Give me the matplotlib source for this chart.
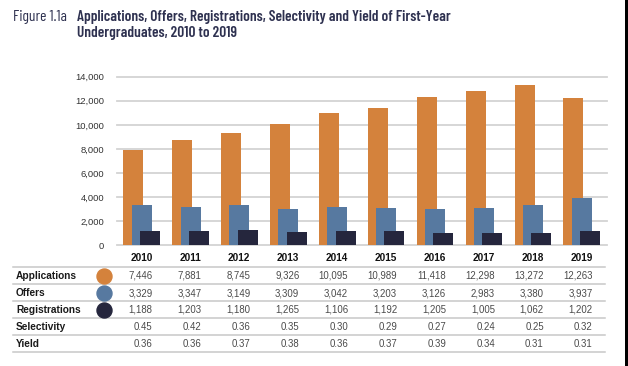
import numpy as np
import matplotlib
matplotlib.use('Agg')
import matplotlib.pyplot as plt
from matplotlib.lines import Line2D
from matplotlib.patches import Rectangle
from matplotlib.transforms import blended_transform_factory, offset_copy

# ---- data ----
years = [2010, 2011, 2012, 2013, 2014, 2015, 2016, 2017, 2018, 2019]
# bar heights as drawn in the figure
apps_bar = [7881, 8745, 9326, 10095, 10989, 11418, 12298, 12840, 13272, 12263]
offers_bar = [3347, 3149, 3309, 3042, 3203, 3126, 2983, 3120, 3380, 3937]
regs_bar = [1203, 1190, 1265, 1106, 1192, 1205, 1005, 1062, 1062, 1202]
# table values as printed
applications = ['7,446', '7,881', '8,745', '9,326', '10,095', '10,989', '11,418', '12,298', '13,272', '12,263']
offers = ['3,329', '3,347', '3,149', '3,309', '3,042', '3,203', '3,126', '2,983', '3,380', '3,937']
registrations = ['1,188', '1,203', '1,180', '1,265', '1,106', '1,192', '1,205', '1,005', '1,062', '1,202']
selectivity = ['0.45', '0.42', '0.36', '0.35', '0.30', '0.29', '0.27', '0.24', '0.25', '0.32']
yield_ = ['0.36', '0.36', '0.37', '0.38', '0.36', '0.37', '0.39', '0.34', '0.31', '0.31']
yticks = [0, 2000, 4000, 6000, 8000, 10000, 12000, 14000]

C_APP = '#D4823C'
C_OFF = '#5779A0'
C_REG = '#25263D'
GRID = '#D3D3D3'
TITLE_C = '#2E3150'
TITLE_FONT = ['Barlow Condensed', 'Archivo Narrow', 'DejaVu Sans']

W, H = 628, 366
plt.rcParams['font.family'] = ['Liberation Sans', 'DejaVu Sans']
fig = plt.figure(figsize=(W / 100, H / 100), dpi=100)


def fy(py):
    return 1 - py / H


def fx(px):
    return px / W


# ---- bar chart ----
ax = fig.add_axes([fx(116.7), fy(245.3), fx(606.7) - fx(116.7), (245.3 - 76.7) / H])
x = np.arange(len(years))
bw = 0.41
off = 0.17
ax.bar(x - off, apps_bar, bw, color=C_APP, zorder=3)
ax.bar(x, offers_bar, bw, color=C_OFF, zorder=4)
ax.bar(x + off, regs_bar, bw, color=C_REG, zorder=5)
ax.set_xlim(-0.51, 9.51)
ax.set_ylim(0, 14000)
ax.set_yticks(yticks)
ax.set_yticklabels([f'{v:,}' for v in yticks])
ax.grid(axis='y', color=GRID, linewidth=1.3, zorder=0)
for gl in ax.get_ygridlines():
    gl.set_clip_on(False)
ax.set_xticks([])
for s in ax.spines.values():
    s.set_visible(False)
ax.tick_params(axis='y', length=0, pad=9, labelsize=6.8, labelcolor='#333333')
ax.patch.set_alpha(0)

# ---- table ----
tx = blended_transform_factory(ax.transData, fig.transFigure)
tx_r = offset_copy(tx, fig=fig, x=11, y=0, units='dots')

for i, yr in enumerate(years):
    fig.text(i, fy(258), str(yr), transform=tx_r, ha='right', va='center',
             fontsize=7.2, fontweight='bold', color='#111111')

rows = [('Applications', applications, C_APP),
        ('Offers', offers, C_OFF),
        ('Registrations', registrations, C_REG),
        ('Selectivity', selectivity, None),
        ('Yield', yield_, None)]
row_y = [276, 293, 310, 327, 344]
line_y = [267.3, 284.3, 301.2, 318.3, 335.3, 352.3]

for ly in line_y:
    fig.add_artist(Line2D([fx(13.3), fx(605)], [fy(ly), fy(ly)],
                          transform=fig.transFigure, color='#C8C8C8', lw=1.1))

for (label, vals, col), ry in zip(rows, row_y):
    fig.text(fx(16), fy(ry), label, ha='left', va='center', fontsize=7.3,
             fontweight='bold', color='#1a1a1a')
    if col is not None:
        fig.add_artist(Line2D([fx(104.3)], [fy(ry)], transform=fig.transFigure,
                              marker='o', markersize=10.8, color=col, lw=0))
    for i, v in enumerate(vals):
        fig.text(i, fy(ry), v, transform=tx_r, ha='right', va='center',
                 fontsize=6.9, color='#4a4a4a')

# ---- title ----
fig.text(fx(13), fy(16.5), 'Figure 1.1a', ha='left', va='center', fontsize=11.2,
         color=TITLE_C, family=TITLE_FONT, fontweight=400)
fig.text(fx(77), fy(16.5), 'Applications, Offers, Registrations, Selectivity and Yield of First-Year',
         ha='left', va='center', fontsize=11.0, fontweight=600, color=TITLE_C,
         family=TITLE_FONT)
fig.text(fx(77), fy(33.5), 'Undergraduates, 2010 to 2019',
         ha='left', va='center', fontsize=11.0, fontweight=600, color=TITLE_C,
         family=TITLE_FONT)

# dark strip at the right edge of the scan
fig.add_artist(Rectangle((fx(625.3), 0), 1 - fx(625.3), 1, transform=fig.transFigure,
                         color='black', lw=0))

fig.savefig('out.png', dpi=100)
